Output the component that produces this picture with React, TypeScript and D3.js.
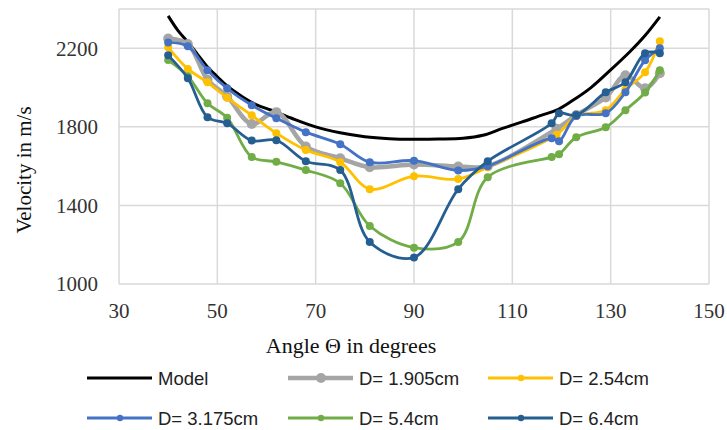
import React from "react";
import * as d3 from "d3";

// model curve
const modelAngles = [40, 42, 44, 46, 48, 50, 52, 55, 58, 61, 65, 70, 75, 80, 85, 90, 95, 100, 104, 108, 112, 116, 119, 122, 126, 130, 134, 137, 140];
const modelVelocity = [2365, 2290, 2232, 2168, 2105, 2055, 2008, 1955, 1912, 1885, 1845, 1800, 1770, 1750, 1740, 1737, 1738, 1742, 1757, 1792, 1825, 1860, 1885, 1930, 2000, 2090, 2185, 2265, 2360];

// measured angles
const anglesA = [40, 44, 48, 52, 57, 62, 68, 75, 81, 90, 99, 105, 119, 123, 129, 133, 137, 140];
const anglesB = [40, 44, 48, 52, 57, 62, 68, 75, 81, 90, 99, 105, 118, 119.5, 123, 129, 133, 137, 140];

const d1905 = [2250, 2222, 2040, 1955, 1815, 1875, 1700, 1640, 1595, 1608, 1598, 1600, 1790, 1860, 1950, 2063, 1996, 2073];
const d254 = [2205, 2095, 2027, 1948, 1859, 1768, 1682, 1620, 1483, 1549, 1534, 1595, 1760, 1855, 1885, 1990, 2078, 2236];
const d3175 = [2230, 2210, 2088, 1996, 1910, 1844, 1773, 1712, 1620, 1628, 1578, 1600, 1742, 1727, 1855, 1869, 1976, 2139, 2200];
const d54 = [2140, 2058, 1920, 1846, 1646, 1622, 1580, 1513, 1295, 1185, 1214, 1544, 1646, 1661, 1747, 1798, 1885, 1975, 2088];
const d64 = [2164, 2047, 1849, 1818, 1730, 1732, 1625, 1580, 1214, 1135, 1483, 1625, 1818, 1869, 1860, 1976, 2027, 2175, 2175];

const xTicks = [30, 50, 70, 90, 110, 130, 150];
const yTicks = [1000, 1400, 1800, 2200];

interface Series {
  name: string;
  angles: number[];
  values: number[];
  color: string;
  lineWidth: number;
  r: number;
}

const series: Series[] = [
  { name: "D= 1.905cm", angles: anglesA, values: d1905, color: "#a5a5a5", lineWidth: 4.5, r: 5 },
  { name: "D= 2.54cm", angles: anglesA, values: d254, color: "#ffc000", lineWidth: 2.8, r: 4 },
  { name: "D= 3.175cm", angles: anglesB, values: d3175, color: "#4472c4", lineWidth: 2.8, r: 4 },
  { name: "D= 5.4cm", angles: anglesB, values: d54, color: "#70ad47", lineWidth: 2.8, r: 4 },
  { name: "D= 6.4cm", angles: anglesB, values: d64, color: "#255e91", lineWidth: 2.8, r: 4 },
];

const W = 727;
const H = 430;
const serif = "'Liberation Serif', 'Times New Roman', serif";
const sans = "'Liberation Sans', Arial, sans-serif";

export default function App() {
  const x = d3.scaleLinear().domain([30, 150]).range([119, 709]);
  const y = d3.scaleLinear().domain([1000, 2400]).range([284, 9]);

  const line = d3
    .line<[number, number]>()
    .x((d) => x(d[0]))
    .y((d) => y(d[1]))
    .curve(d3.curveCatmullRom.alpha(0.5));

  const modelPts = modelAngles.map((a, i) => [a, modelVelocity[i]] as [number, number]);

  // legend slots: line start x, row
  const legendItems = [
    { name: "Model", color: "#000", lw: 3, r: 0, lx: 87, row: 0 },
    { name: series[0].name, color: series[0].color, lw: 4.5, r: 5, lx: 288, row: 0 },
    { name: series[1].name, color: series[1].color, lw: 2.8, r: 3.2, lx: 488, row: 0 },
    { name: series[2].name, color: series[2].color, lw: 2.8, r: 3.2, lx: 87, row: 1 },
    { name: series[3].name, color: series[3].color, lw: 2.8, r: 3.2, lx: 288, row: 1 },
    { name: series[4].name, color: series[4].color, lw: 2.8, r: 3.2, lx: 488, row: 1 },
  ];

  return (
    <svg
      width={W}
      height={H}
      style={{ position: "absolute", left: 0, top: 0, background: "#fff" }}
    >
      {/* grid */}
      {xTicks.map((t) => (
        <line key={`gx${t}`} x1={x(t)} x2={x(t)} y1={y(2400)} y2={y(1000)} stroke="#d9d9d9" strokeWidth={1.5} />
      ))}
      {[1000, 1400, 1800, 2200, 2400].map((t) => (
        <line key={`gy${t}`} x1={x(30)} x2={x(150)} y1={y(t)} y2={y(t)} stroke="#d9d9d9" strokeWidth={1.5} />
      ))}

      {/* tick labels */}
      {yTicks.map((t) => (
        <text key={`yt${t}`} x={98} y={y(t)} dy="0.35em" textAnchor="end" fontFamily={serif} fontSize={21} fill="#333">
          {t}
        </text>
      ))}
      {xTicks.map((t) => (
        <text key={`xt${t}`} x={x(t)} y={318} textAnchor="middle" fontFamily={serif} fontSize={21} fill="#333">
          {t}
        </text>
      ))}

      {/* axis titles */}
      <text
        transform="translate(31,170) rotate(-90)"
        textAnchor="middle"
        fontFamily={serif}
        fontSize={21}
        fill="#111"
      >
        Velocity in m/s
      </text>
      <text x={351} y={353} textAnchor="middle" fontFamily={serif} fontSize={22} fill="#111">
        Angle Θ in degrees
      </text>

      {/* model */}
      <path d={line(modelPts) ?? ""} fill="none" stroke="#000" strokeWidth={3} />

      {/* measured series */}
      {series.map((s) => {
        const pts = s.angles.map((a, i) => [a, s.values[i]] as [number, number]);
        return (
          <g key={s.name}>
            <path d={line(pts) ?? ""} fill="none" stroke={s.color} strokeWidth={s.lineWidth} strokeLinejoin="round" />
            {pts.map((p, i) => (
              <circle key={i} cx={x(p[0])} cy={y(p[1])} r={s.r} fill={s.color} />
            ))}
          </g>
        );
      })}

      {/* legend */}
      {legendItems.map((it) => {
        const cy = it.row === 0 ? 378 : 418;
        return (
          <g key={it.name}>
            <line x1={it.lx} x2={it.lx + 65} y1={cy} y2={cy} stroke={it.color} strokeWidth={it.lw} />
            {it.r > 0 && <circle cx={it.lx + 33} cy={cy} r={it.r} fill={it.color} />}
            <text x={it.lx + 71} y={cy} dy="0.36em" fontFamily={sans} fontSize={18.5} fill="#222">
              {it.name}
            </text>
          </g>
        );
      })}
    </svg>
  );
}
